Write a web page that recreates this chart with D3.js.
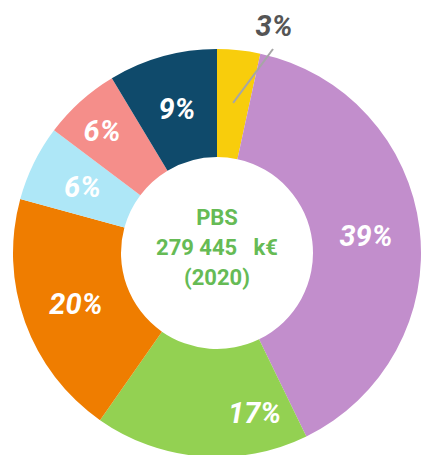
<!DOCTYPE html>
<html>
<head>
<meta charset="utf-8">
<script src="https://cdn.jsdelivr.net/npm/d3@7"></script>
<style>
  body { margin: 0; background: #fff; }
  svg { display: block; }
</style>
</head>
<body>
<div id="container"></div>
<script>
// slice shares (%), clockwise from 12 o'clock
const values = [3.4, 39.3, 16.9, 19.5, 6.0, 6.1, 8.6];
const labels = ["3%", "39%", "17%", "20%", "6%", "6%", "9%"];
const colors = ["#f8cd0c", "#c28ecc", "#93d152", "#ef7d00", "#aee7f7", "#f58e8a", "#0f4a6b"];
const centerLines = ["PBS", "279 445   k€", "(2020)"];

const width = 421;
const height = 455;
const cx = 217, cy = 253;
const outerR = 204, innerR = 96;
const font = "Roboto, 'DejaVu Sans', sans-serif";

const svg = d3.select("#container").append("svg")
    .attr("width", width)
    .attr("height", height);

const g = svg.append("g")
    .attr("transform", `translate(${cx}, ${cy})`);

const pie = d3.pie().sort(null).value(d => d);
const arcs = pie(values);

const arc = d3.arc().innerRadius(innerR).outerRadius(outerR);

g.selectAll("path.slice")
    .data(arcs)
    .enter()
    .append("path")
    .attr("class", "slice")
    .attr("d", arc)
    .attr("fill", (d, i) => colors[i]);

// label tweaks (angle shift in radians, radius) for a couple of slices
const tweak = {2: {da: -0.31, r: 164}, 5: {da: -0.02, r: 168}};

arcs.forEach((d, i) => {
    if (i === 0) return; // small slice: label outside with leader
    const mid = (d.startAngle + d.endAngle) / 2 + (tweak[i] ? tweak[i].da : 0);
    const r = tweak[i] ? tweak[i].r : (innerR + outerR) / 2;
    g.append("text")
        .attr("x", r * Math.sin(mid))
        .attr("y", -r * Math.cos(mid))
        .attr("dy", "0.36em")
        .attr("text-anchor", "middle")
        .attr("font-family", font)
        .attr("font-size", 29)
        .attr("font-weight", 700)
        .attr("font-style", "italic")
        .attr("fill", "#fff")
        .text(labels[i]);
});

// leader for the 3% slice
const a0 = (arcs[0].startAngle + arcs[0].endAngle) / 2;
const p1 = [ (innerR + 55) * Math.sin(a0), -(innerR + 55) * Math.cos(a0) ];
g.append("line")
    .attr("x1", p1[0])
    .attr("y1", p1[1])
    .attr("x2", 273 - cx)
    .attr("y2", 49 - cy)
    .attr("stroke", "#a6a6a6")
    .attr("stroke-width", 2);

g.append("text")
    .attr("x", 274 - cx)
    .attr("y", 36 - cy)
    .attr("text-anchor", "middle")
    .attr("font-family", font)
    .attr("font-size", 29)
    .attr("font-weight", 700)
    .attr("font-style", "italic")
    .attr("fill", "#555")
    .text(labels[0]);

// centre text
centerLines.forEach((t, i) => {
    g.append("text")
        .attr("x", 0)
        .attr("y", -28 + i * 30)
        .attr("text-anchor", "middle")
        .attr("font-family", font)
        .attr("font-size", 22)
        .attr("font-weight", 700)
        .attr("fill", "#66bb55")
        .style("white-space", "pre")
        .text(t);
});
</script>
</body>
</html>
